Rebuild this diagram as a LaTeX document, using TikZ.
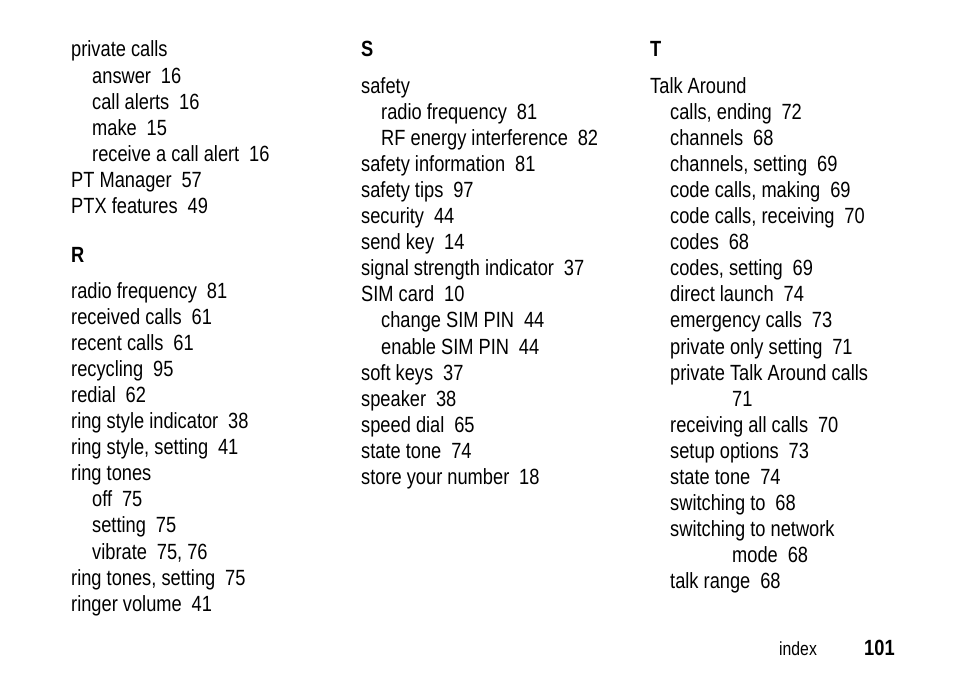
\documentclass[tikz,border=0pt]{standalone}
\usepackage{fontspec}
\setmainfont[FakeStretch=0.83]{Liberation Sans}
\newcommand{\pg}{\hspace{0.45em}}
\tikzset{entry/.style={anchor=base west,inner sep=0pt,font=\fontsize{22}{26}\selectfont},
 head/.style={entry,font=\fontsize{22}{26}\selectfont\bfseries}}
\begin{document}
\begin{tikzpicture}[x=1pt,y=-1pt]
\useasboundingbox (0,0) rectangle (954,677);
% column 1
\foreach \d/\t [count=\i] in {0/private calls,1/answer\pg16,1/call alerts\pg16,1/make\pg15,1/receive a call alert\pg16,0/PT Manager\pg57,0/PTX features\pg49}
  \node[entry] (a\i) at (71+21*\d,57+26.1*\i-26.1) {\t};
\node[head] (hr) at (71,262) {R};
\foreach \d/\t [count=\i] in {0/radio frequency\pg81,0/received calls\pg61,0/recent calls\pg61,0/recycling\pg95,0/redial\pg62,0/ring style indicator\pg38,{0/{ring style, setting\pg41}},0/ring tones,1/off\pg75,1/setting\pg75,{1/{vibrate\pg75, 76}},{0/{ring tones, setting\pg75}},0/ringer volume\pg41}
  \node[entry] (r\i) at (71+21*\d,298+26.1*\i-26.1) {\t};
% column 2
\node[head] (hs) at (361,57) {S};
\foreach \d/\t [count=\i] in {0/safety,1/radio frequency\pg81,1/RF energy interference\pg82,0/safety information\pg81,0/safety tips\pg97,0/security\pg44,0/send key\pg14,0/signal strength indicator\pg37,0/SIM card\pg10,1/change SIM PIN\pg44,1/enable SIM PIN\pg44,0/soft keys\pg37,0/speaker\pg38,0/speed dial\pg65,0/state tone\pg74,0/store your number\pg18}
  \node[entry] (s\i) at (361+20*\d,93+26.1*\i-26.1) {\t};
% column 3
\node[head] (ht) at (650,57) {T};
\foreach \d/\t [count=\i] in {0/Talk Around,{1/{calls, ending\pg72}},1/channels\pg68,{1/{channels, setting\pg69}},{1/{code calls, making\pg69}},{1/{code calls, receiving\pg70}},1/codes\pg68,{1/{codes, setting\pg69}},1/direct launch\pg74,1/emergency calls\pg73,1/private only setting\pg71,1/private Talk Around calls,4.1/71,1/receiving all calls\pg70,1/setup options\pg73,1/state tone\pg74,1/switching to\pg68,1/switching to network,4.1/mode\pg68,1/talk range\pg68}
  \node[entry] (t\i) at (650+20*\d,93+26.1*\i-26.1) {\t};
% footer
\node[entry,font=\fontsize{19}{22}\selectfont] (idx) at (779,655) {index};
\node[head] (pnum) at (864,655) {101};
\end{tikzpicture}
\end{document}
